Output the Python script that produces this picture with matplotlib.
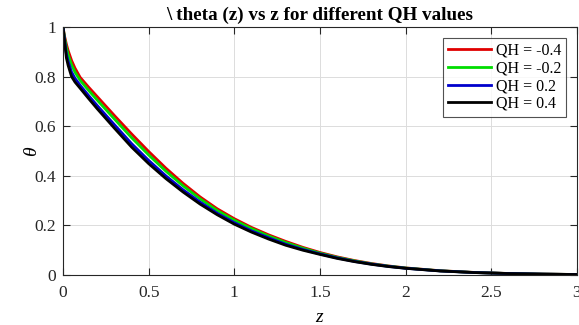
import matplotlib
matplotlib.use("Agg")
import matplotlib.pyplot as plt

# Sampled temperature profiles theta(z) for four QH values
z = [0, 0.01, 0.02, 0.03, 0.05, 0.07, 0.1, 0.15, 0.2, 0.3, 0.4, 0.5, 0.6, 0.7,
     0.8, 0.9, 1.0, 1.1, 1.2, 1.3, 1.4, 1.5, 1.6, 1.7, 1.8, 1.9, 2.0, 2.2, 2.4,
     2.6, 2.8, 3.0]

theta_qh_m04 = [1.0, 0.96, 0.93, 0.905, 0.865, 0.834, 0.797, 0.757, 0.719, 0.643,
                0.569, 0.498, 0.431, 0.370, 0.315, 0.267, 0.227, 0.192, 0.162,
                0.1355, 0.1115, 0.0908, 0.0732, 0.0585, 0.0464, 0.0365, 0.0286,
                0.0173, 0.0104, 0.0062, 0.0037, 0.0021]
theta_qh_m02 = [1.0, 0.953, 0.915, 0.888, 0.847, 0.818, 0.785, 0.744, 0.705, 0.629,
                0.554, 0.484, 0.419, 0.360, 0.307, 0.260, 0.221, 0.187, 0.157,
                0.131, 0.108, 0.088, 0.071, 0.057, 0.045, 0.0357, 0.0281,
                0.0170, 0.0102, 0.0061, 0.0036, 0.0021]
theta_qh_p02 = [1.0, 0.942, 0.89, 0.861, 0.818, 0.793, 0.765, 0.723, 0.683, 0.606,
                0.530, 0.462, 0.400, 0.344, 0.294, 0.249, 0.211, 0.178, 0.150,
                0.124, 0.103, 0.085, 0.069, 0.055, 0.044, 0.0348, 0.0273,
                0.0166, 0.0100, 0.0060, 0.0035, 0.0020]
theta_qh_p04 = [1.0, 0.935, 0.875, 0.845, 0.80, 0.778, 0.753, 0.711, 0.670, 0.592,
                0.516, 0.449, 0.389, 0.335, 0.286, 0.243, 0.205, 0.173, 0.145,
                0.120, 0.100, 0.083, 0.067, 0.054, 0.043, 0.034, 0.027,
                0.0163, 0.0099, 0.0059, 0.0035, 0.0020]

series_labels = ["QH = -0.4", "QH = -0.2", "QH = 0.2", "QH = 0.4"]
series_colors = ["#e00000", "#00dd00", "#0000cc", "#000000"]

x_ticks = [0, 0.5, 1, 1.5, 2, 2.5, 3]
x_tick_labels = ["0", "0.5", "1", "1.5", "2", "2.5", "3"]
y_ticks = [0, 0.2, 0.4, 0.6, 0.8, 1]
y_tick_labels = ["0", "0.2", "0.4", "0.6", "0.8", "1"]

plt.rcParams["font.family"] = ["Liberation Serif", "DejaVu Serif"]
plt.rcParams["mathtext.fontset"] = "custom"
plt.rcParams["mathtext.it"] = "Liberation Serif:italic"
plt.rcParams["mathtext.rm"] = "Liberation Serif"

fig = plt.figure(figsize=(5.79, 3.25), dpi=100)
ax = fig.add_axes([0.1088, 0.1538, 0.8877, 0.7632])

for vals, lab, col in zip([theta_qh_m04, theta_qh_m02, theta_qh_p02, theta_qh_p04],
                          series_labels, series_colors):
    ax.plot(z, vals, color=col, lw=2.0, label=lab)

ax.set_xlim(0, 3)
ax.set_ylim(0, 1)
ax.set_xticks(x_ticks)
ax.set_xticklabels(x_tick_labels)
ax.set_yticks(y_ticks)
ax.set_yticklabels(y_tick_labels)
ax.tick_params(direction="in", length=5, width=0.8, top=True, right=True,
               labelsize=12.5, colors="#262626")
ax.tick_params(axis="x", pad=7)
ax.tick_params(axis="y", pad=5)
ax.grid(True, color="#dcdcdc", lw=0.7)
ax.set_axisbelow(True)
for sp in ax.spines.values():
    sp.set_color("#262626")
    sp.set_linewidth(0.8)

ax.set_title("\\ theta (z) vs z for different QH values", fontsize=13.8,
             fontweight="bold", pad=5)
ax.set_xlabel(r"$z$", fontsize=14, labelpad=6)
ax.set_ylabel(r"$\theta$", fontsize=14, labelpad=-5)

leg = ax.legend(loc="upper right", fontsize=11.5, frameon=True, fancybox=False,
                edgecolor="#262626", handlelength=2.7, handletextpad=0.3,
                borderpad=0.3, labelspacing=0.1, borderaxespad=0.7)
leg.get_frame().set_linewidth(0.8)

fig.savefig("out.png", dpi=100)
